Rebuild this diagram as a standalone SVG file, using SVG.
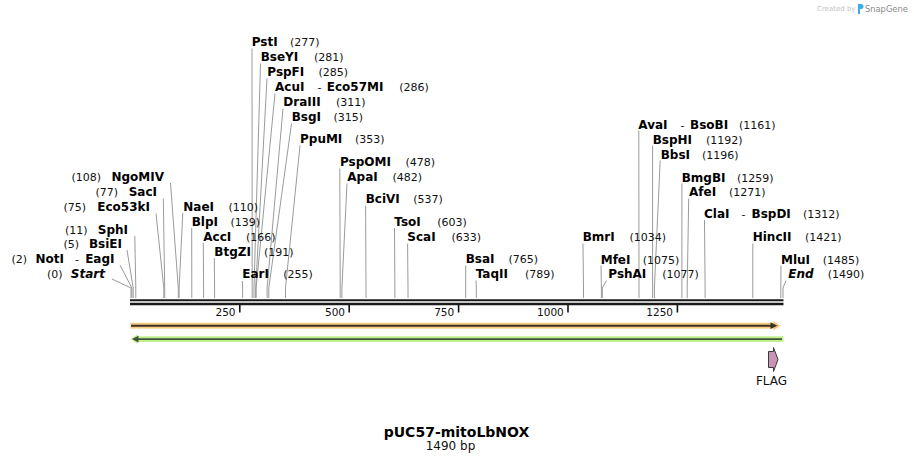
<svg xmlns="http://www.w3.org/2000/svg" width="914" height="462" viewBox="0 0 914 462">
<style>
.n{font-family:"DejaVu Sans",Verdana,sans-serif;font-size:12px;font-weight:bold;fill:#000}
.it{font-style:italic}
.c{font-family:"DejaVu Sans",Verdana,sans-serif;font-size:11px;fill:#111}
.d{font-family:"DejaVu Sans",Verdana,sans-serif;font-size:11px;fill:#111}
.e{text-anchor:end}
.ln{fill:none;stroke:#9a9a9a;stroke-width:1}
.tk{stroke:#111;stroke-width:1.6}
.tl{font-family:"DejaVu Sans",Verdana,sans-serif;font-size:10.5px;fill:#111;text-anchor:end}
</style>
<rect x="0" y="0" width="914" height="462" fill="#fff"/>

<g id="credit">
<text x="817" y="11" font-family="DejaVu Sans, sans-serif" font-size="7" fill="#c4c4c4">Created by</text>
<path d="M858,4 h3 a2.5,2.5 0 0 1 0,5 h-1 v5 h-2 z" fill="#3aaee6"/>
<text x="865" y="12" font-family="DejaVu Sans, sans-serif" font-size="8.3" fill="#8a8a8a">SnapGene</text>
</g>

<g id="connectors">
<polyline class="ln" points="112,279 131,288 131,298"/>
<polyline class="ln" points="120,265 131.9,288 131.9,298"/>
<polyline class="ln" points="127,250 133.2,288 133.2,298"/>
<polyline class="ln" points="134.8,236 135.8,288 135.8,298"/>
<polyline class="ln" points="156,213.5 163.8,288 163.8,298"/>
<polyline class="ln" points="163.3,198.5 164.7,288 164.7,298"/>
<polyline class="ln" points="170.5,183 178.3,288 178.3,298"/>
<polyline class="ln" points="182.8,213 179.1,288 179.1,298"/>
<polyline class="ln" points="191.7,228 191.8,288 191.8,298"/>
<polyline class="ln" points="203.3,243 203.6,288 203.6,298"/>
<polyline class="ln" points="214.3,258 214.6,288 214.6,298"/>
<polyline class="ln" points="242.3,281 242.6,288 242.6,298"/>
<polyline class="ln" points="252,48.5 252.2,288 252.2,298"/>
<polyline class="ln" points="260.5,63.5 254,288 254,298"/>
<polyline class="ln" points="267,78.5 255.7,288 255.7,298"/>
<polyline class="ln" points="275,93.5 256.1,288 256.1,298"/>
<polyline class="ln" points="283,108.5 267.1,288 267.1,298"/>
<polyline class="ln" points="291.5,123.5 268.8,288 268.8,298"/>
<polyline class="ln" points="300,145.5 285.5,288 285.5,298"/>
<polyline class="ln" points="339.8,168.5 340.2,288 340.2,298"/>
<polyline class="ln" points="347,183.5 341.9,288 341.9,298"/>
<polyline class="ln" points="365.6,205.5 366,288 366,298"/>
<polyline class="ln" points="394.5,228 394.9,288 394.9,298"/>
<polyline class="ln" points="407.6,243.5 408,288 408,298"/>
<polyline class="ln" points="465.7,265.5 465.7,288 465.7,298"/>
<polyline class="ln" points="476,280.5 476.3,288 476.3,298"/>
<polyline class="ln" points="583,243.5 583.5,288 583.5,298"/>
<polyline class="ln" points="601,265.5 601.4,288 601.4,298"/>
<polyline class="ln" points="606.5,280.5 602.3,288 602.3,298"/>
<polyline class="ln" points="638.8,130.5 639,288 639,298"/>
<polyline class="ln" points="652.6,145.5 652.6,288 652.6,298"/>
<polyline class="ln" points="660.2,160.5 654.4,288 654.4,298"/>
<polyline class="ln" points="681.9,183.5 681.9,288 681.9,298"/>
<polyline class="ln" points="688.7,198.5 687.2,288 687.2,298"/>
<polyline class="ln" points="704.5,220 705.1,288 705.1,298"/>
<polyline class="ln" points="752.8,243.5 752.8,288 752.8,298"/>
<polyline class="ln" points="781,265.5 780.8,288 780.8,298"/>
<polyline class="ln" points="786,280.5 783,288 783,298"/>
</g>

<g id="sequence">
<line x1="130" y1="300.2" x2="783.5" y2="300.2" stroke="#1a1a1a" stroke-width="2"/>
<line x1="130" y1="304" x2="783.5" y2="304" stroke="#1a1a1a" stroke-width="2.6"/>
<line class="tk" x1="239.8" y1="305" x2="239.8" y2="312.5"/>
<line class="tk" x1="349.2" y1="305" x2="349.2" y2="312.5"/>
<line class="tk" x1="458.6" y1="305" x2="458.6" y2="312.5"/>
<line class="tk" x1="568" y1="305" x2="568" y2="312.5"/>
<line class="tk" x1="677.4" y1="305" x2="677.4" y2="312.5"/>
<text class="tl" x="235.5" y="316">250</text>
<text class="tl" x="345" y="316">500</text>
<text class="tl" x="454.2" y="316">750</text>
<text class="tl" x="563.8" y="316">1000</text>
<text class="tl" x="673" y="316">1250</text>
</g>

<g id="feature-forward">
<rect x="130.5" y="322.8" width="644" height="5.8" fill="#f9ca7f"/>
<polygon points="773.5,321 780.5,325.7 773.5,330.4" fill="#f9ca7f"/>
<line x1="131" y1="325.7" x2="772" y2="325.7" stroke="#3a3328" stroke-width="2"/>
<polygon points="770.5,322.3 777.5,325.7 770.5,329.1" fill="#3a3328"/>
</g>

<g id="feature-reverse">
<rect x="136" y="336.2" width="647.5" height="5.8" fill="#c3f08e"/>
<polygon points="137.5,334.3 130.5,339.1 137.5,343.9" fill="#c3f08e"/>
<line x1="137" y1="339.1" x2="782" y2="339.1" stroke="#3f5438" stroke-width="1.8"/>
<polygon points="138.5,335.8 132,339.1 138.5,342.4" fill="#3f5438"/>
</g>

<g id="flag">
<path d="M768.5,351.5 H773.5 V347.5 L778,359.5 L773.5,371.5 V367.5 H768.5 Z" fill="#c895b5" stroke="#3a3a3a" stroke-width="1"/>
<text x="771.5" y="385" text-anchor="middle" font-family="DejaVu Sans, sans-serif" font-size="12" fill="#111">FLAG</text>
</g>

<g id="lbl-start"><text class="c" x="47" y="278">(0)</text><text class="n it e" x="105" y="278">Start</text></g>
<g id="lbl-noti-eagi"><text class="c" x="11.5" y="263">(2)</text><text class="n" x="35.5" y="263">NotI</text><text class="d" x="75" y="263">-</text><text class="n e" x="114.5" y="263">EagI</text></g>
<g id="lbl-bsiei"><text class="c" x="63.5" y="248">(5)</text><text class="n e" x="122" y="248">BsiEI</text></g>
<g id="lbl-sphi"><text class="c" x="65" y="233.5">(11)</text><text class="n e" x="128" y="233.5">SphI</text></g>
<g id="lbl-eco53ki"><text class="c" x="63.5" y="211">(75)</text><text class="n e" x="150" y="211">Eco53kI</text></g>
<g id="lbl-saci"><text class="c" x="95.5" y="196">(77)</text><text class="n e" x="157" y="196">SacI</text></g>
<g id="lbl-ngomiv"><text class="c" x="71.5" y="181">(108)</text><text class="n e" x="164" y="181">NgoMIV</text></g>

<g id="lbl-naei"><text class="n" x="183.3" y="210.5">NaeI</text><text class="c" x="228.5" y="210.5">(110)</text></g>
<g id="lbl-blpi"><text class="n" x="191.7" y="225.5">BlpI</text><text class="c" x="230.5" y="225.5">(139)</text></g>
<g id="lbl-acci"><text class="n" x="203.3" y="240.5">AccI</text><text class="c" x="246" y="240.5">(166)</text></g>
<g id="lbl-btgzi"><text class="n" x="214.3" y="255.5">BtgZI</text><text class="c" x="264" y="255.5">(191)</text></g>
<g id="lbl-eari"><text class="n" x="242.3" y="278">EarI</text><text class="c" x="283.3" y="278">(255)</text></g>

<g id="lbl-psti"><text class="n" x="251.7" y="46">PstI</text><text class="c" x="290" y="46">(277)</text></g>
<g id="lbl-bseyi"><text class="n" x="260.7" y="61">BseYI</text><text class="c" x="314" y="61">(281)</text></g>
<g id="lbl-pspfi"><text class="n" x="267.3" y="76">PspFI</text><text class="c" x="318.5" y="76">(285)</text></g>
<g id="lbl-acui-eco57mi"><text class="n" x="275" y="91">AcuI</text><text class="d" x="317.5" y="91">-</text><text class="n" x="326.8" y="91">Eco57MI</text><text class="c" x="399.3" y="91">(286)</text></g>
<g id="lbl-draiii"><text class="n" x="283.3" y="106">DraIII</text><text class="c" x="336" y="106">(311)</text></g>
<g id="lbl-bsgi"><text class="n" x="291.7" y="121">BsgI</text><text class="c" x="333.5" y="121">(315)</text></g>
<g id="lbl-ppumi"><text class="n" x="300" y="143">PpuMI</text><text class="c" x="355" y="143">(353)</text></g>

<g id="lbl-pspomi"><text class="n" x="340" y="166">PspOMI</text><text class="c" x="405.5" y="166">(478)</text></g>
<g id="lbl-apai"><text class="n" x="347.3" y="181">ApaI</text><text class="c" x="392.5" y="181">(482)</text></g>
<g id="lbl-bcivi"><text class="n" x="365.7" y="203">BciVI</text><text class="c" x="413.3" y="203">(537)</text></g>
<g id="lbl-tsoi"><text class="n" x="394.3" y="225.5">TsoI</text><text class="c" x="437.3" y="225.5">(603)</text></g>
<g id="lbl-scai"><text class="n" x="407.3" y="241">ScaI</text><text class="c" x="451.5" y="241">(633)</text></g>
<g id="lbl-bsai"><text class="n" x="465.7" y="263">BsaI</text><text class="c" x="508.5" y="263">(765)</text></g>
<g id="lbl-taqii"><text class="n" x="475.7" y="278">TaqII</text><text class="c" x="525" y="278">(789)</text></g>

<g id="lbl-bmri"><text class="n" x="582.7" y="241">BmrI</text><text class="c" x="629.5" y="241">(1034)</text></g>
<g id="lbl-mfei"><text class="n" x="600.7" y="263.5">MfeI</text><text class="c" x="642.7" y="263.5">(1075)</text></g>
<g id="lbl-pshai"><text class="n" x="608.3" y="278">PshAI</text><text class="c" x="662.3" y="278">(1077)</text></g>
<g id="lbl-avai-bsobi"><text class="n" x="638.3" y="128.5">AvaI</text><text class="d" x="680.5" y="128.5">-</text><text class="n" x="690" y="128.5">BsoBI</text><text class="c" x="739" y="128.5">(1161)</text></g>
<g id="lbl-bsphi"><text class="n" x="652.7" y="143.5">BspHI</text><text class="c" x="706" y="143.5">(1192)</text></g>
<g id="lbl-bbsi"><text class="n" x="660.7" y="158.5">BbsI</text><text class="c" x="702" y="158.5">(1196)</text></g>
<g id="lbl-bmgbi"><text class="n" x="681.7" y="181.5">BmgBI</text><text class="c" x="737" y="181.5">(1259)</text></g>
<g id="lbl-afei"><text class="n" x="689" y="196">AfeI</text><text class="c" x="729" y="196">(1271)</text></g>
<g id="lbl-clai-bspdi"><text class="n" x="704" y="217.5">ClaI</text><text class="d" x="741.5" y="217.5">-</text><text class="n" x="751.5" y="217.5">BspDI</text><text class="c" x="803" y="217.5">(1312)</text></g>
<g id="lbl-hincii"><text class="n" x="752.7" y="241">HincII</text><text class="c" x="805" y="241">(1421)</text></g>
<g id="lbl-mlui"><text class="n" x="781" y="263.5">MluI</text><text class="c" x="822.7" y="263.5">(1485)</text></g>
<g id="lbl-end"><text class="n it" x="788.3" y="278">End</text><text class="c" x="827.7" y="278">(1490)</text></g>

<g id="title">
<text x="456.5" y="436.5" text-anchor="middle" font-family="DejaVu Sans, sans-serif" font-size="14" font-weight="bold" fill="#000">pUC57-mitoLbNOX</text>
<text x="450.5" y="450" text-anchor="middle" font-family="DejaVu Sans, sans-serif" font-size="12" fill="#111">1490 bp</text>
</g>
</svg>
